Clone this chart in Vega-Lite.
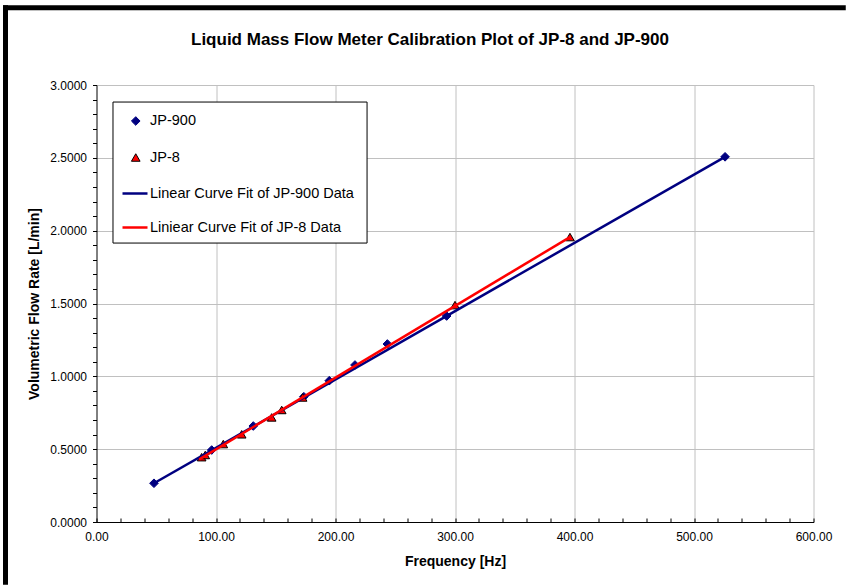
{
  "$schema": "https://vega.github.io/schema/vega-lite/v6.json",
  "width": 717,
  "height": 437,
  "autosize": {"type": "none"},
  "padding": {"left": 96.5, "top": 85, "right": 32.5, "bottom": 63},
  "background": "white",
  "title": {
    "text": "Liquid Mass Flow Meter Calibration Plot of JP-8 and JP-900",
    "font": "Liberation Sans",
    "fontSize": 17,
    "fontWeight": "bold",
    "color": "black",
    "anchor": "middle",
    "baseline": "bottom",
    "dx": -25,
    "offset": -63
  },
  "config": {
    "view": {"stroke": null},
    "font": "Liberation Sans",
    "legend": {
      "orient": "none",
      "padding": 0,
      "labelFont": "Liberation Sans",
      "labelFontSize": 14.5,
      "labelColor": "black",
      "labelLimit": 400
    }
  },
  "datasets": {
    "points": [
      {"series": "JP-900", "freq": 48.1, "rate": 0.266},
      {"series": "JP-900", "freq": 96.4, "rate": 0.494},
      {"series": "JP-900", "freq": 131.2, "rate": 0.659},
      {"series": "JP-900", "freq": 173.5, "rate": 0.86},
      {"series": "JP-900", "freq": 194.8, "rate": 0.97},
      {"series": "JP-900", "freq": 216.3, "rate": 1.078},
      {"series": "JP-900", "freq": 243.4, "rate": 1.222},
      {"series": "JP-900", "freq": 293.0, "rate": 1.414},
      {"series": "JP-900", "freq": 526.0, "rate": 2.507},
      {"series": "JP-8", "freq": 88.0, "rate": 0.445},
      {"series": "JP-8", "freq": 91.0, "rate": 0.46},
      {"series": "JP-8", "freq": 106.1, "rate": 0.535},
      {"series": "JP-8", "freq": 121.5, "rate": 0.602},
      {"series": "JP-8", "freq": 146.6, "rate": 0.718},
      {"series": "JP-8", "freq": 155.0, "rate": 0.769},
      {"series": "JP-8", "freq": 172.5, "rate": 0.855},
      {"series": "JP-8", "freq": 300.0, "rate": 1.489},
      {"series": "JP-8", "freq": 396.2, "rate": 1.956}
    ],
    "fits": [
      {"series": "Linear Curve Fit of JP-900 Data", "freq": 48.1, "rate": 0.266},
      {"series": "Linear Curve Fit of JP-900 Data", "freq": 526.0, "rate": 2.507},
      {"series": "Liniear Curve Fit of JP-8 Data", "freq": 86.0, "rate": 0.43},
      {"series": "Liniear Curve Fit of JP-8 Data", "freq": 396.2, "rate": 1.956}
    ]
  },
  "layer": [
    {
      "data": {"values": [{"edge": "left"}]},
      "mark": {"type": "rule", "stroke": "black", "strokeWidth": 5, "clip": false},
      "encoding": {
        "x": {"datum": -76.15, "type": "quantitative", "scale": {"domain": [0, 600], "nice": false, "zero": false},
          "axis": {
            "values": [0,20,40,60,80,100,120,140,160,180,200,220,240,260,280,300,320,340,360,380,400,420,440,460,480,500,520,540,560,580,600],
            "labelExpr": "datum.value % 100 === 0 ? format(datum.value, '.2f') : ''",
            "grid": true, "gridColor": "#c0c0c0", "gridWidth": 1,
            "gridOpacity": {"condition": {"test": "datum.value % 100 === 0 && datum.value > 0", "value": 1}, "value": 0},
            "tickSize": -4, "tickColor": "black", "domainColor": "black",
            "labelFont": "Liberation Sans", "labelFontSize": 12, "labelColor": "black", "labelPadding": 13,
            "labelOverlap": false, "labelFlush": false,
            "title": "Frequency [Hz]", "titleFont": "Liberation Sans", "titleFontSize": 14, "titleFontWeight": "bold", "titleColor": "black", "titlePadding": 12
          }},
        "y": {"datum": 3.548, "type": "quantitative", "scale": {"domain": [0, 3], "nice": false, "zero": false},
          "axis": {
            "values": [0,0.1,0.2,0.3,0.4,0.5,0.6,0.7,0.8,0.9,1,1.1,1.2,1.3,1.4,1.5,1.6,1.7,1.8,1.9,2,2.1,2.2,2.3,2.4,2.5,2.6,2.7,2.8,2.9,3],
            "labelExpr": "round(datum.value*10) % 5 === 0 ? format(datum.value, '.4f') : ''",
            "grid": true, "gridColor": "#c0c0c0", "gridWidth": 1,
            "gridOpacity": {"condition": {"test": "round(datum.value*10) % 5 === 0 && datum.value > 0", "value": 1}, "value": 0},
            "tickSize": 4, "tickColor": "black", "domainColor": "black",
            "labelFont": "Liberation Sans", "labelFontSize": 12, "labelColor": "black", "labelPadding": 6,
            "labelOverlap": false, "labelFlush": false,
            "title": "Volumetric Flow Rate [L/min]", "titleFont": "Liberation Sans", "titleFontSize": 14, "titleFontWeight": "bold", "titleColor": "black", "titlePadding": 8
          }},
        "y2": {"datum": -0.43}
      }
    },
    {
      "data": {"values": [{"edge": "top"}]},
      "mark": {"type": "rule", "stroke": "black", "strokeWidth": 5, "clip": false},
      "encoding": {
        "x": {"datum": -78.2, "type": "quantitative",
          "axis": {
            "values": [0,20,40,60,80,100,120,140,160,180,200,220,240,260,280,300,320,340,360,380,400,420,440,460,480,500,520,540,560,580,600],
            "labelExpr": "datum.value % 100 === 0 ? format(datum.value, '.2f') : ''",
            "grid": true, "gridColor": "#c0c0c0", "gridWidth": 1,
            "gridOpacity": {"condition": {"test": "datum.value % 100 === 0 && datum.value > 0", "value": 1}, "value": 0},
            "tickSize": -4, "tickColor": "black", "domainColor": "black",
            "labelFont": "Liberation Sans", "labelFontSize": 12, "labelColor": "black", "labelPadding": 13,
            "labelOverlap": false, "labelFlush": false,
            "title": "Frequency [Hz]", "titleFont": "Liberation Sans", "titleFontSize": 14, "titleFontWeight": "bold", "titleColor": "black", "titlePadding": 12
          }},
        "x2": {"datum": 627},
        "y": {"datum": 3.531, "type": "quantitative",
          "axis": {
            "values": [0,0.1,0.2,0.3,0.4,0.5,0.6,0.7,0.8,0.9,1,1.1,1.2,1.3,1.4,1.5,1.6,1.7,1.8,1.9,2,2.1,2.2,2.3,2.4,2.5,2.6,2.7,2.8,2.9,3],
            "labelExpr": "round(datum.value*10) % 5 === 0 ? format(datum.value, '.4f') : ''",
            "grid": true, "gridColor": "#c0c0c0", "gridWidth": 1,
            "gridOpacity": {"condition": {"test": "round(datum.value*10) % 5 === 0 && datum.value > 0", "value": 1}, "value": 0},
            "tickSize": 4, "tickColor": "black", "domainColor": "black",
            "labelFont": "Liberation Sans", "labelFontSize": 12, "labelColor": "black", "labelPadding": 6,
            "labelOverlap": false, "labelFlush": false,
            "title": "Volumetric Flow Rate [L/min]", "titleFont": "Liberation Sans", "titleFontSize": 14, "titleFontWeight": "bold", "titleColor": "black", "titlePadding": 8
          }}
      }
    },
    {
      "data": {"values": [{"box": 1}]},
      "mark": {"type": "rect", "fill": "white", "stroke": "black", "strokeWidth": 1},
      "encoding": {
        "x": {"datum": 13.8, "type": "quantitative",
          "axis": {
            "values": [0,20,40,60,80,100,120,140,160,180,200,220,240,260,280,300,320,340,360,380,400,420,440,460,480,500,520,540,560,580,600],
            "labelExpr": "datum.value % 100 === 0 ? format(datum.value, '.2f') : ''",
            "grid": true, "gridColor": "#c0c0c0", "gridWidth": 1,
            "gridOpacity": {"condition": {"test": "datum.value % 100 === 0 && datum.value > 0", "value": 1}, "value": 0},
            "tickSize": -4, "tickColor": "black", "domainColor": "black",
            "labelFont": "Liberation Sans", "labelFontSize": 12, "labelColor": "black", "labelPadding": 13,
            "labelOverlap": false, "labelFlush": false,
            "title": "Frequency [Hz]", "titleFont": "Liberation Sans", "titleFontSize": 14, "titleFontWeight": "bold", "titleColor": "black", "titlePadding": 12
          }},
        "x2": {"datum": 226.4},
        "y": {"datum": 2.883, "type": "quantitative",
          "axis": {
            "values": [0,0.1,0.2,0.3,0.4,0.5,0.6,0.7,0.8,0.9,1,1.1,1.2,1.3,1.4,1.5,1.6,1.7,1.8,1.9,2,2.1,2.2,2.3,2.4,2.5,2.6,2.7,2.8,2.9,3],
            "labelExpr": "round(datum.value*10) % 5 === 0 ? format(datum.value, '.4f') : ''",
            "grid": true, "gridColor": "#c0c0c0", "gridWidth": 1,
            "gridOpacity": {"condition": {"test": "round(datum.value*10) % 5 === 0 && datum.value > 0", "value": 1}, "value": 0},
            "tickSize": 4, "tickColor": "black", "domainColor": "black",
            "labelFont": "Liberation Sans", "labelFontSize": 12, "labelColor": "black", "labelPadding": 6,
            "labelOverlap": false, "labelFlush": false,
            "title": "Volumetric Flow Rate [L/min]", "titleFont": "Liberation Sans", "titleFontSize": 14, "titleFontWeight": "bold", "titleColor": "black", "titlePadding": 8
          }},
        "y2": {"datum": 1.915}
      }
    },
    {
      "data": {"name": "points"},
      "mark": {"type": "point", "filled": true, "opacity": 1, "size": 75, "strokeWidth": 1},
      "encoding": {
        "x": {"field": "freq", "type": "quantitative",
          "axis": {
            "values": [0,20,40,60,80,100,120,140,160,180,200,220,240,260,280,300,320,340,360,380,400,420,440,460,480,500,520,540,560,580,600],
            "labelExpr": "datum.value % 100 === 0 ? format(datum.value, '.2f') : ''",
            "grid": true, "gridColor": "#c0c0c0", "gridWidth": 1,
            "gridOpacity": {"condition": {"test": "datum.value % 100 === 0 && datum.value > 0", "value": 1}, "value": 0},
            "tickSize": -4, "tickColor": "black", "domainColor": "black",
            "labelFont": "Liberation Sans", "labelFontSize": 12, "labelColor": "black", "labelPadding": 13,
            "labelOverlap": false, "labelFlush": false,
            "title": "Frequency [Hz]", "titleFont": "Liberation Sans", "titleFontSize": 14, "titleFontWeight": "bold", "titleColor": "black", "titlePadding": 12
          }},
        "y": {"field": "rate", "type": "quantitative",
          "axis": {
            "values": [0,0.1,0.2,0.3,0.4,0.5,0.6,0.7,0.8,0.9,1,1.1,1.2,1.3,1.4,1.5,1.6,1.7,1.8,1.9,2,2.1,2.2,2.3,2.4,2.5,2.6,2.7,2.8,2.9,3],
            "labelExpr": "round(datum.value*10) % 5 === 0 ? format(datum.value, '.4f') : ''",
            "grid": true, "gridColor": "#c0c0c0", "gridWidth": 1,
            "gridOpacity": {"condition": {"test": "round(datum.value*10) % 5 === 0 && datum.value > 0", "value": 1}, "value": 0},
            "tickSize": 4, "tickColor": "black", "domainColor": "black",
            "labelFont": "Liberation Sans", "labelFontSize": 12, "labelColor": "black", "labelPadding": 6,
            "labelOverlap": false, "labelFlush": false,
            "title": "Volumetric Flow Rate [L/min]", "titleFont": "Liberation Sans", "titleFontSize": 14, "titleFontWeight": "bold", "titleColor": "black", "titlePadding": 8
          }},
        "shape": {
          "field": "series", "type": "nominal", "title": null,
          "scale": {"domain": ["JP-900", "JP-8"], "range": ["diamond", "triangle-up"]},
          "legend": {"legendX": 32, "legendY": 28.75, "rowPadding": 21.5, "labelOffset": 7, "symbolSize": 75, "symbolStrokeWidth": 1}
        },
        "fill": {
          "field": "series", "type": "nominal", "title": null,
          "scale": {"domain": ["JP-900", "JP-8"], "range": ["#000080", "#ff0000"]},
          "legend": {"legendX": 32, "legendY": 28.75, "rowPadding": 21.5, "labelOffset": 7, "symbolSize": 75, "symbolStrokeWidth": 1}
        },
        "stroke": {
          "field": "series", "type": "nominal", "title": null,
          "scale": {"domain": ["JP-900", "JP-8"], "range": ["#000080", "#000000"]},
          "legend": {"legendX": 32, "legendY": 28.75, "rowPadding": 21.5, "labelOffset": 7, "symbolSize": 75, "symbolStrokeWidth": 1}
        }
      }
    },
    {
      "data": {"name": "fits"},
      "mark": {"type": "line", "strokeWidth": 2.5},
      "encoding": {
        "x": {"field": "freq", "type": "quantitative",
          "axis": {
            "values": [0,20,40,60,80,100,120,140,160,180,200,220,240,260,280,300,320,340,360,380,400,420,440,460,480,500,520,540,560,580,600],
            "labelExpr": "datum.value % 100 === 0 ? format(datum.value, '.2f') : ''",
            "grid": true, "gridColor": "#c0c0c0", "gridWidth": 1,
            "gridOpacity": {"condition": {"test": "datum.value % 100 === 0 && datum.value > 0", "value": 1}, "value": 0},
            "tickSize": -4, "tickColor": "black", "domainColor": "black",
            "labelFont": "Liberation Sans", "labelFontSize": 12, "labelColor": "black", "labelPadding": 13,
            "labelOverlap": false, "labelFlush": false,
            "title": "Frequency [Hz]", "titleFont": "Liberation Sans", "titleFontSize": 14, "titleFontWeight": "bold", "titleColor": "black", "titlePadding": 12
          }},
        "y": {"field": "rate", "type": "quantitative",
          "axis": {
            "values": [0,0.1,0.2,0.3,0.4,0.5,0.6,0.7,0.8,0.9,1,1.1,1.2,1.3,1.4,1.5,1.6,1.7,1.8,1.9,2,2.1,2.2,2.3,2.4,2.5,2.6,2.7,2.8,2.9,3],
            "labelExpr": "round(datum.value*10) % 5 === 0 ? format(datum.value, '.4f') : ''",
            "grid": true, "gridColor": "#c0c0c0", "gridWidth": 1,
            "gridOpacity": {"condition": {"test": "round(datum.value*10) % 5 === 0 && datum.value > 0", "value": 1}, "value": 0},
            "tickSize": 4, "tickColor": "black", "domainColor": "black",
            "labelFont": "Liberation Sans", "labelFontSize": 12, "labelColor": "black", "labelPadding": 6,
            "labelOverlap": false, "labelFlush": false,
            "title": "Volumetric Flow Rate [L/min]", "titleFont": "Liberation Sans", "titleFontSize": 14, "titleFontWeight": "bold", "titleColor": "black", "titlePadding": 8
          }},
        "color": {
          "field": "series", "type": "nominal", "title": null,
          "scale": {"domain": ["Linear Curve Fit of JP-900 Data", "Liniear Curve Fit of JP-8 Data"], "range": ["#000080", "#ff0000"]},
          "legend": {"legendX": 24.5, "legendY": 94.5, "rowPadding": 13, "labelOffset": 1, "symbolType": "stroke", "symbolSize": 625, "symbolStrokeWidth": 2.5}
        }
      }
    }
  ]
}
